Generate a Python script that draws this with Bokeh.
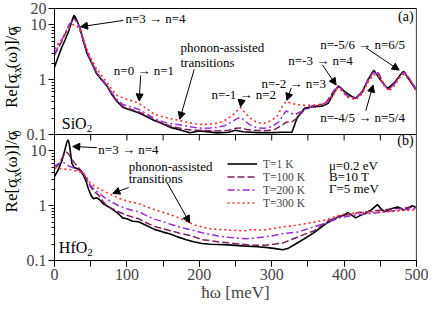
import math
from bokeh.plotting import figure
from bokeh.layouts import row
from bokeh.core.properties import value
from bokeh.models import (FixedTicker, SingleIntervalTicker, Label, Arrow, NormalHead, Legend, LegendItem,
                          Span, Range1d, LogScale)
from bokeh.embed import file_html
from bokeh.resources import INLINE

FONT = "Liberation Serif"

# ---------------- data: panel (a) SiO2 ----------------
a_x_t1 = [0, 5, 10, 15, 20, 25, 27, 30, 35, 40, 45, 50, 58, 65, 72, 80, 85, 95, 105, 116, 125, 138, 150, 160, 167, 175,
          187, 200, 210, 225, 240, 250, 260, 280, 300, 315, 328, 335, 345, 355, 370, 378, 385, 392, 400, 410, 416, 425,
          433, 441, 450, 460, 470, 477, 482, 490, 498, 500]
a_y_t1 = [1.7, 2.6, 3.9, 5.5, 8.0, 13.0, 15.0, 13.0, 8.8, 5.0, 3.0, 2.2, 1.3, 1.0, 0.78, 0.52, 0.42, 0.31, 0.28, 0.25,
          0.22, 0.18, 0.155, 0.135, 0.128, 0.12, 0.108, 0.116, 0.113, 0.107, 0.11, 0.12, 0.112, 0.108, 0.108, 0.11,
          0.11, 0.2, 0.3, 0.32, 0.33, 0.37, 0.55, 0.77, 0.62, 0.5, 0.46, 0.6, 1.0, 1.5, 1.0, 0.69, 0.9, 1.2, 1.43, 1.0,
          0.69, 0.66]

a_x_t100 = [0, 5, 10, 15, 20, 25, 28, 32, 36, 40, 45, 50, 58, 65, 72, 85, 95, 105, 116, 125, 138, 150, 160, 170, 180,
            190, 200, 210, 225, 240, 250, 257, 265, 280, 295, 305, 315, 320, 328, 335, 345, 355, 365, 375, 382, 390,
            395, 405, 416, 425, 433, 441, 448, 455, 462, 470, 478, 483, 490, 500]
a_y_t100 = [2.8, 3.8, 5.0, 7.0, 9.8, 12.5, 13.0, 11.5, 8.3, 5.2, 3.2, 2.25, 1.35, 1.02, 0.79, 0.43, 0.32, 0.29, 0.26,
            0.23, 0.185, 0.158, 0.143, 0.133, 0.125, 0.12, 0.12, 0.118, 0.116, 0.12, 0.13, 0.132, 0.124, 0.118, 0.118,
            0.125, 0.15, 0.168, 0.17, 0.2, 0.28, 0.32, 0.34, 0.38, 0.53, 0.75, 0.72, 0.5, 0.46, 0.6, 1.0, 1.45, 1.3,
            0.82, 0.67, 0.88, 1.25, 1.4, 1.05, 0.67]

a_x_t200 = [0, 5, 10, 15, 20, 25, 28, 32, 36, 40, 45, 50, 58, 65, 72, 85, 95, 105, 116, 125, 138, 150, 160, 173, 185,
            195, 205, 215, 225, 235, 245, 252, 257, 262, 270, 280, 290, 300, 310, 316, 320, 325, 332, 340, 350, 355,
            365, 375, 382, 390, 395, 405, 416, 425, 433, 441, 448, 455, 462, 470, 478, 483, 490, 500]
a_y_t200 = [3.0, 4.0, 5.3, 7.3, 10.0, 12.0, 12.2, 11.0, 8.0, 5.3, 3.3, 2.3, 1.4, 1.05, 0.8, 0.45, 0.35, 0.32, 0.29,
            0.25, 0.195, 0.17, 0.158, 0.151, 0.14, 0.134, 0.13, 0.132, 0.135, 0.145, 0.17, 0.195, 0.206, 0.18, 0.15,
            0.132, 0.13, 0.14, 0.17, 0.23, 0.27, 0.25, 0.23, 0.26, 0.31, 0.33, 0.35, 0.38, 0.5, 0.72, 0.7, 0.5, 0.45,
            0.58, 0.95, 1.35, 1.25, 0.82, 0.66, 0.85, 1.2, 1.35, 1.05, 0.65]

a_x_t300 = [0, 5, 10, 15, 20, 25, 28, 32, 36, 40, 45, 50, 58, 65, 72, 85, 95, 105, 116, 125, 138, 150, 160, 173, 185,
            195, 205, 215, 225, 235, 245, 252, 257, 262, 270, 280, 290, 300, 308, 315, 320, 325, 335, 345, 355, 365,
            375, 382, 390, 395, 405, 416, 425, 433, 441, 448, 455, 462, 470, 478, 483, 490, 500]
a_y_t300 = [3.65, 4.5, 5.5, 7.0, 8.8, 10.0, 10.2, 9.3, 7.5, 5.5, 3.6, 2.5, 1.6, 1.2, 0.9, 0.53, 0.46, 0.42, 0.376,
            0.31, 0.235, 0.21, 0.195, 0.18, 0.165, 0.157, 0.152, 0.155, 0.16, 0.18, 0.22, 0.27, 0.31, 0.26, 0.2,
            0.165, 0.16, 0.18, 0.22, 0.33, 0.4, 0.38, 0.35, 0.34, 0.34, 0.35, 0.37, 0.45, 0.68, 0.65, 0.48, 0.43,
            0.55, 0.9, 1.25, 1.15, 0.8, 0.62, 0.8, 1.15, 1.27, 1.0, 0.62]

# ---------------- data: panel (b) HfO2 ----------------
b_x_t1 = [0, 5, 10, 14, 17, 19, 21, 24, 27, 31, 35, 40, 44, 47, 51, 54, 58, 62, 67, 75, 82, 88, 94, 100, 108, 116,
          125, 138, 150, 160, 170, 182, 192, 204, 215, 226, 240, 260, 280, 295, 305, 315, 322, 333, 345, 359, 370,
          377, 386, 394, 400, 405, 410, 416, 422, 430, 438, 446, 452, 457, 465, 474, 480, 483, 488, 494, 500]
b_y_t1 = [3.4, 4.5, 6.5, 10.0, 14.5, 16.0, 12.0, 6.0, 5.0, 4.8, 4.5, 3.6, 2.7, 2.0, 1.5, 1.34, 1.4, 1.3, 1.1, 0.95,
          0.82, 0.72, 0.6, 0.58, 0.52, 0.51, 0.45, 0.37, 0.33, 0.306, 0.27, 0.24, 0.22, 0.204, 0.198, 0.196, 0.193,
          0.185, 0.178, 0.172, 0.165, 0.157, 0.165, 0.2, 0.25, 0.326, 0.42, 0.49, 0.57, 0.64, 0.67, 0.75, 0.68, 0.6,
          0.66, 0.73, 0.85, 1.05, 0.85, 0.78, 0.88, 0.95, 0.87, 0.84, 0.9, 1.0, 0.92]

b_x_t100 = [0, 5, 10, 14, 17, 20, 24, 28, 33, 40, 45, 50, 55, 60, 66, 71, 80, 90, 100, 108, 116, 125, 138, 150, 160,
            175, 190, 204, 215, 226, 240, 255, 272, 290, 305, 316, 330, 345, 359, 370, 377, 390, 398, 410, 420, 440,
            465, 480, 494, 500]
b_y_t100 = [4.8, 5.5, 7.2, 9.0, 9.5, 8.6, 7.0, 6.0, 5.0, 3.9, 2.9, 2.2, 1.8, 1.6, 1.25, 1.03, 0.88, 0.76, 0.67, 0.62,
            0.58, 0.5, 0.42, 0.38, 0.35, 0.31, 0.28, 0.24, 0.23, 0.22, 0.21, 0.2, 0.19, 0.19, 0.2, 0.21, 0.25, 0.3,
            0.35, 0.45, 0.52, 0.62, 0.67, 0.7, 0.75, 0.8, 0.87, 0.9, 0.95, 0.95]

b_x_t200 = [0, 5, 10, 15, 20, 25, 30, 35, 40, 45, 49, 55, 60, 65, 71, 80, 90, 100, 108, 116, 125, 138, 150, 160, 175,
            190, 204, 215, 226, 240, 255, 265, 275, 289, 300, 316, 333, 345, 360, 377, 390, 398, 420, 440, 465, 480,
            494, 500]
b_y_t200 = [5.3, 5.8, 6.3, 5.9, 5.3, 5.0, 4.6, 4.3, 3.9, 3.0, 2.4, 2.0, 1.75, 1.55, 1.35, 1.15, 0.98, 0.88, 0.82,
            0.78, 0.68, 0.57, 0.51, 0.46, 0.4, 0.36, 0.32, 0.3, 0.28, 0.265, 0.255, 0.25, 0.255, 0.27, 0.28, 0.31,
            0.326, 0.36, 0.42, 0.49, 0.58, 0.62, 0.69, 0.73, 0.8, 0.84, 0.88, 0.88]

b_x_t300 = [0, 10, 20, 30, 40, 45, 49, 55, 60, 65, 71, 80, 90, 100, 108, 116, 125, 138, 150, 160, 175, 186, 195, 204,
            215, 226, 240, 257, 265, 272, 280, 289, 300, 315, 333, 350, 365, 377, 390, 398, 420, 440, 465, 480, 494,
            500]
b_y_t300 = [4.9, 4.7, 4.6, 4.3, 4.0, 3.2, 2.6, 2.3, 2.1, 1.95, 1.76, 1.55, 1.35, 1.22, 1.15, 1.1, 0.98, 0.85, 0.76,
            0.69, 0.58, 0.49, 0.44, 0.41, 0.38, 0.37, 0.36, 0.35, 0.35, 0.37, 0.36, 0.36, 0.38, 0.41, 0.44, 0.48,
            0.52, 0.56, 0.65, 0.69, 0.75, 0.76, 0.78, 0.81, 0.84, 0.84]

series_labels = ["T=1 K", "T=100 K", "T=200 K", "T=300 K"]
params_text = ["\u03bc=0.2 eV", "B=10 T", "\u0393=5 meV"]
ylabel_pieces = ["Re[\u03c3", "xx", "(\u03c9)]/\u03c3", "0"]
x_tick_positions = [0, 50, 100, 150, 200, 250, 300, 350, 400, 450, 500]

# Each panel spans 0.1 .. 20 (log).  The main y range carries panel (a) in the upper half,
# the extra range "b" carries panel (b) in the lower half.
PANEL_LO, PANEL_HI = 0.1, 20.0
SPAN = PANEL_HI / PANEL_LO
RANGE_A = (PANEL_LO / SPAN, PANEL_HI)
RANGE_B = (PANEL_LO, PANEL_HI * SPAN)
B_TO_A = PANEL_LO / PANEL_HI
y_major_a = [0.1, 1, 10, 20]
y_major_b = [0.1, 1, 10]
y_minor_dec = [0.2, 0.3, 0.4, 0.5, 0.6, 0.7, 0.8, 0.9, 2, 3, 4, 5, 6, 7, 8, 9]

# ---------------- styles ----------------
STYLES = [
    dict(line_color="black", line_width=1.6, line_dash="solid"),
    dict(line_color="#7b1f5e", line_width=1.5, line_dash="7 3"),
    dict(line_color="#9a2ed6", line_width=1.5, line_dash="7 3 2 3"),
    dict(line_color="#ff2a2a", line_width=1.6, line_dash="2 3"),
]

LAB_W = 23
MAIN_W = 405
FRAME_H = 252
LEFT = 27
RIGHT = 12
TOP = 8
BOTTOM = 44
H = FRAME_H + TOP + BOTTOM

p = figure(width=MAIN_W, height=H, x_range=Range1d(0, 500), y_range=Range1d(*RANGE_A), y_axis_type="log",
           output_backend="svg", toolbar_location=None, min_border_left=LEFT, min_border_right=RIGHT,
           min_border_top=TOP, min_border_bottom=BOTTOM)
p.extra_y_ranges = {"b": Range1d(*RANGE_B)}
p.extra_y_scales = {"b": LogScale()}
p.grid.visible = False
p.outline_line_color = "black"
p.outline_line_width = 1

ya = p.yaxis[0]
b_major_pos = [round(t * B_TO_A, 10) for t in y_major_b]
ya.ticker = FixedTicker(ticks=y_major_a + b_major_pos,
                        minor_ticks=y_minor_dec + [round(t * B_TO_A, 10) for t in y_minor_dec])
overrides = {t: ("%g" % t) for t in y_major_a}
overrides.update({pos: ("%g" % t) for pos, t in zip(b_major_pos, y_major_b)})
ya.major_label_overrides = overrides
ya.major_tick_in = 0
ya.major_tick_out = 6
ya.minor_tick_in = 0
ya.minor_tick_out = 3
ya.major_label_text_font = FONT
ya.major_label_text_font_size = "16px"
ya.major_label_standoff = 2
ya.axis_line_color = "black"

xa = p.xaxis[0]
xa.ticker = SingleIntervalTicker(interval=100, num_minor_ticks=2)
xa.major_tick_in = 0
xa.major_tick_out = 6
xa.minor_tick_in = 0
xa.minor_tick_out = 6
xa.major_label_text_font = FONT
xa.major_label_text_font_size = "16px"
xa.major_label_standoff = 2
xa.axis_label = "\u0127\u03c9 [meV]"
xa.axis_label_text_font = FONT
xa.axis_label_text_font_size = "17px"
xa.axis_label_text_font_style = "normal"
xa.axis_label_standoff = 0
xa.axis_line_color = "black"

p.add_layout(Span(location=PANEL_LO, dimension="width", line_color="black", line_width=1))
p.ray(x=x_tick_positions, y=[PANEL_LO] * len(x_tick_positions), length=6, length_units="screen",
      angle=-math.pi / 2, line_color="black", line_width=1)
p.add_layout(Span(location=500, dimension="height", line_color="#9a9a9a", line_width=1.5))

for xs, ys, st in zip([a_x_t1, a_x_t100, a_x_t200, a_x_t300], [a_y_t1, a_y_t100, a_y_t200, a_y_t300], STYLES):
    p.line(xs, ys, **st)

renderers = []
for xs, ys, st in zip([b_x_t1, b_x_t100, b_x_t200, b_x_t300], [b_y_t1, b_y_t100, b_y_t200, b_y_t300], STYLES):
    renderers.append(p.line(xs, ys, y_range_name="b", **st))


def add_text(x, y, txt, size="13px", align="left", rng="default"):
    p.add_layout(Label(x=x, y=y, text=txt, text_font=FONT, text_font_size=size, text_align=align,
                       text_baseline="middle", text_color="black", y_range_name=rng))


def add_arrow(xs, ys, xe, ye, rng="default"):
    p.add_layout(Arrow(end=NormalHead(size=7, fill_color="black", line_color="black", line_width=1),
                       x_start=xs, y_start=ys, x_end=xe, y_end=ye, line_color="black", line_width=1,
                       y_range_name=rng))


def add_sub_label(x, y, main, sub, w, rng="default"):
    p.add_layout(Label(x=x, y=y, text=main, text_font=FONT, text_font_size="16px", text_align="left",
                       text_baseline="middle", text_color="black", y_range_name=rng))
    p.add_layout(Label(x=x, y=y, x_offset=w, y_offset=-5, text=sub, text_font=FONT, text_font_size="11px",
                       text_align="left", text_baseline="middle", text_color="black", y_range_name=rng))


# panel (a) annotations
add_text(98, 13.0, "n=3 \u2192 n=4")
add_arrow(95, 12.1, 36, 9.3)
add_text(82, 1.47, "n=0 \u2192 n=1")
add_arrow(119, 1.2, 117, 0.41)
add_text(174, 3.85, "phonon-assisted")
add_text(174, 2.1, "transitions")
add_arrow(193, 1.55, 173, 0.19)
add_text(217, 0.54, "n=-1 \u2192 n=2")
add_arrow(258.6, 0.44, 257, 0.32)
add_text(286, 0.87, "n=-2 \u2192 n=3")
add_arrow(327, 0.71, 321, 0.42)
add_text(323, 2.2, "n=-3 \u2192 n=4")
add_arrow(370, 1.87, 389, 0.8)
add_text(367, 4.45, "n=-5/6 \u2192 n=6/5")
add_arrow(430, 3.85, 476, 1.5)
add_text(367, 0.206, "n=-4/5 \u2192 n=5/4")
add_arrow(430, 0.272, 440, 0.8)
add_text(496, 14.5, "(a)", size="14px", align="right")
add_sub_label(10, 0.157, "SiO", "2", 25)

# panel (b) annotations
add_text(60.6, 10.8, "n=3 \u2192 n=4", rng="b")
add_arrow(58.4, 11.5, 25.2, 12.1, rng="b")
add_text(102.5, 5.2, "phonon-assisted", rng="b")
add_text(102.5, 3.13, "transitions", rng="b")
add_arrow(102.5, 2.15, 80.5, 1.69, rng="b")
add_arrow(155.6, 2.64, 186.6, 0.49, rng="b")
add_text(496, 15.6, "(b)", size="14px", align="right", rng="b")
add_sub_label(6, 0.176, "HfO", "2", 28.4, rng="b")
add_text(379, 5.46, params_text[0], rng="b")
add_text(379, 3.36, params_text[1], rng="b")
add_text(379, 2.07, params_text[2], rng="b")

legend = Legend(items=[LegendItem(label=lab, renderers=[r]) for lab, r in zip(series_labels, renderers)],
                location=(173, 51), label_text_font=FONT, label_text_font_size="11.5px", label_height=13,
                glyph_height=13, glyph_width=30, spacing=0, padding=0, margin=0, label_standoff=6,
                background_fill_alpha=0, border_line_color=None)
p.add_layout(legend)

# ---------------- rotated y titles (helper strip) ----------------
lab = figure(width=LAB_W, height=H, x_range=Range1d(0, LAB_W), y_range=Range1d(0, H),
             x_axis_type=None, y_axis_type=None, output_backend="svg", toolbar_location=None,
             min_border=0, min_border_left=0, min_border_right=0, min_border_top=0, min_border_bottom=0)
lab.outline_line_color = None
lab.grid.visible = False
sizes = [17, 12, 17, 12]
shifts = [0, 5, 0, 5]
widths = [35.0, 12.5, 44.0, 6.5]
total = sum(widths)
half = FRAME_H / 2
for centre in (BOTTOM + half + half / 2, BOTTOM + half / 2):
    y0 = centre - total / 2
    for txt, fs, sh, w in zip(ylabel_pieces, sizes, shifts, widths):
        lab.text(x=[11 + sh], y=[y0], text=[txt], angle=math.pi / 2, text_font=value(FONT),
                 text_font_size=f"{fs}px", text_align="left", text_baseline="middle", text_color="black")
        y0 += w

layout = row(lab, p, spacing=0)
open("out.html", "w").write(file_html(layout, INLINE))
